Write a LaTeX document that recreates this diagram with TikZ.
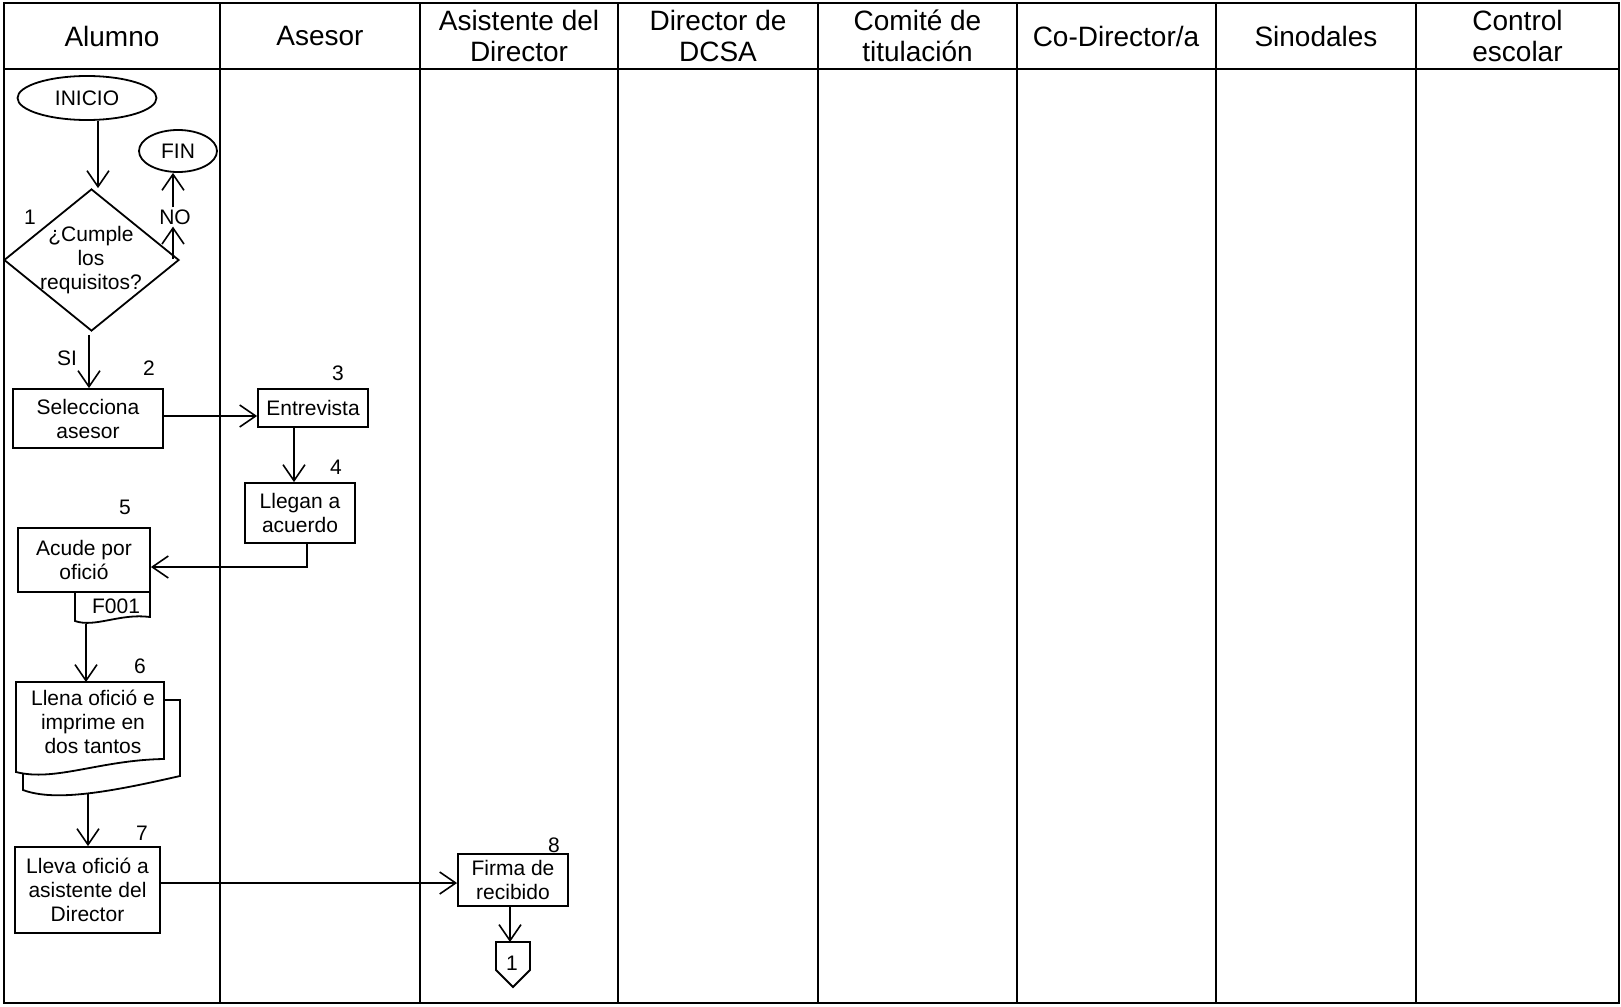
\documentclass[tikz,border=0pt]{standalone}
\usepackage{fontspec}
\setmainfont{Liberation Sans}
\usetikzlibrary{shapes.geometric,arrows.meta,calc}
\newcommand\hdrfont{\fontsize{28}{31}\selectfont}
\newcommand\txtfont{\fontsize{21}{24}\selectfont}
\begin{document}
\begin{tikzpicture}[x=1pt,y=-1pt,
  frame/.style={line width=2.2pt},
  hdr/.style={font=\hdrfont, align=center, inner sep=0pt},
  txt/.style={font=\txtfont, align=center, inner sep=0pt},
  num/.style={font=\txtfont, inner sep=0pt},
  proc/.style={draw, line width=1.8pt, fill=white, font=\txtfont, align=center, inner sep=0pt},
  term/.style={ellipse, draw, line width=1.8pt, fill=white, font=\txtfont, inner sep=0pt},
  shp/.style={draw, line width=1.8pt, fill=white, line join=miter},
  flow/.style={line width=1.6pt, -{Straight Barb[length=16pt,width=22pt]}},
]
\useasboundingbox (0,0) rectangle (1621,1006);

% swimlane grid
\draw[frame] (4,3) rectangle (1619,1003);
\draw[frame] (4,69) -- (1619,69);
\foreach \x in {220,420,618,818,1017,1216,1416} \draw[frame] (\x,3) -- (\x,1003);

% lane headers
\node[hdr] (hAlumno)   at (112,36)    {Alumno};
\node[hdr] (hAsesor)   at (320,36)    {Asesor};
\node[hdr] (hAsist)    at (519,36)    {Asistente del\\Director};
\node[hdr] (hDirector) at (718,36)    {Director de\\DCSA};
\node[hdr] (hComite)   at (917.5,36)  {Comité de\\titulación};
\node[hdr] (hCodir)    at (1116,36)   {Co-Director/a};
\node[hdr] (hSinod)    at (1316,36)   {Sinodales};
\node[hdr] (hControl)  at (1517.5,36) {Control\\escolar};

% terminators
\node[term, minimum width=139, minimum height=44] (inicio) at (87,98) {INICIO};
\node[term, minimum width=78, minimum height=42] (fin) at (178,151) {FIN};

% decision 1
\node[diamond, draw, line width=1.8pt, inner sep=0pt, minimum width=175, minimum height=142] (dec) at (91.5,260) {};
\node[txt] (dectxt) at (91,260) {¿Cumple\\los\\requisitos?};
\node[num] (n1) at (30,217) {1};
\node[num, inner sep=2pt] (nolbl) at (175,217) {NO};
\node[num] (silbl) at (67,358) {SI};

% process steps
\node[proc, minimum width=150, minimum height=59] (sel) at (88,418.5) {Selecciona\\asesor};
\node[num] (n2) at (149,368) {2};
\node[proc, minimum width=110, minimum height=38] (ent) at (313,408) {Entrevista};
\node[num] (n3) at (338,373) {3};
\node[proc, minimum width=110, minimum height=60] (lleg) at (300,513) {Llegan a\\acuerdo};
\node[num] (n4) at (336,467) {4};

% step 5 with its form tab
\draw[shp] (75,592) -- (150,592) -- (150,617) .. controls (120,613) and (95,628) .. (75,621) -- cycle;
\node[proc, minimum width=132, minimum height=64] (acu) at (84,560) {Acude por\\ofició};
\node[num] (f001) at (116,606) {F001};
\node[num] (n5) at (125,507) {5};
\coordinate (tabbot) at (86,624);

% step 6: document printed twice
\draw[shp] (23,700) -- (180,700) -- (180,776) .. controls (110,792) and (55,802) .. (23,790) -- cycle;
\draw[shp] (16,682) -- (164,682) -- (164,759) .. controls (100,760) and (55,782) .. (16,772) -- cycle;
\coordinate (doctop) at (16,682);
\coordinate (docbot) at (88,794);
\node[txt] (llena) at (93,722) {Llena ofició e\\imprime en\\dos tantos};
\node[num] (n6) at (140,666) {6};

% step 7
\node[proc, minimum width=145, minimum height=86] (lleva) at (87.5,890) {Lleva ofició a\\asistente del\\Director};
\node[num] (n7) at (142,833) {7};

% step 8 and off-page connector
\node[proc, minimum width=110, minimum height=52] (firma) at (513,880) {Firma de\\recibido};
\node[num] (n8) at (554,845) {8};
\draw[shp] (496,942) -- (530,942) -- (530,970) -- (513,987) -- (496,970) -- cycle;
\node[num] (offpg) at (512,963) {1};
\coordinate (offtop) at (513,942);

% connectors
\coordinate (ia) at ($(inicio.south)+(11,0)$);
\draw[flow] (ia) -- (ia |- dec.north);

\coordinate (noa) at (173,259);
\draw[flow] (noa) -- (noa |- nolbl.south);
\draw[flow] (noa |- nolbl.north) -- (noa |- fin.south);

\coordinate (sid) at ($(dec.south)+(-2.5,3)$);
\draw[flow] (sid) -- (sid |- sel.north);

\coordinate (se) at ($(sel.east)+(0,-2.5)$);
\draw[flow] (se) -- (se -| ent.west);

\coordinate (es) at ($(ent.south)+(-19,0)$);
\draw[flow] (es) -- (es |- lleg.north);

\coordinate (ls) at ($(lleg.south)+(7,0)$);
\coordinate (ae) at ($(acu.east)+(0,7)$);
\draw[flow] (ls) |- (ae);

\draw[flow] (tabbot) -- (tabbot |- doctop);
\draw[flow] (docbot) -- (docbot |- lleva.north);

\coordinate (le) at ($(lleva.east)+(0,-7)$);
\draw[flow] (le) -- (le -| firma.west);

\coordinate (fs) at ($(firma.south)+(-3,0)$);
\draw[flow] (fs) -- (fs |- offtop);
\end{tikzpicture}
\end{document}
